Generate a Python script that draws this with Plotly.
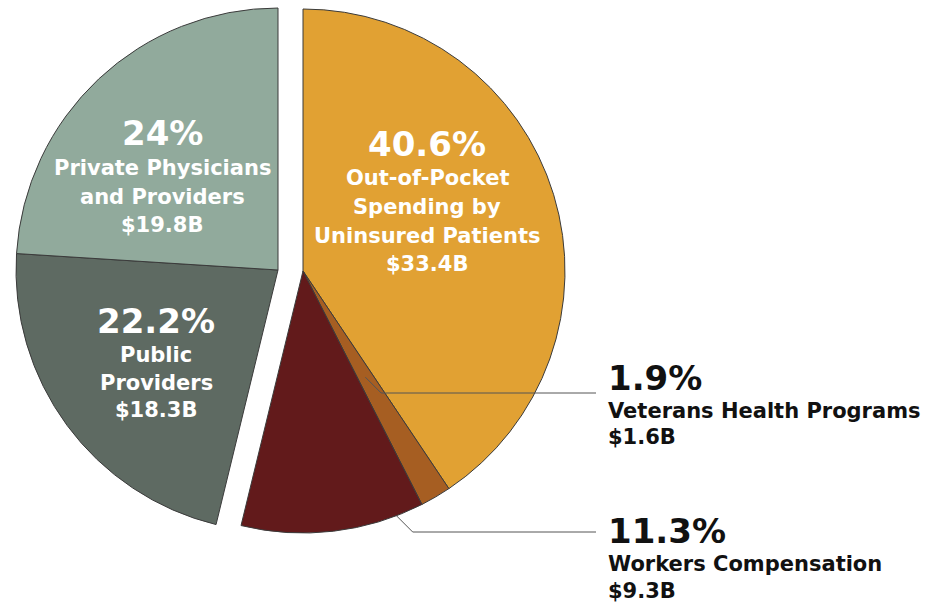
import math
import plotly.graph_objects as go

# ---- data -------------------------------------------------------------
categories = [
    "Out-of-Pocket Spending by Uninsured Patients",
    "Veterans Health Programs",
    "Workers Compensation",
    "Public Providers",
    "Private Physicians and Providers",
]
shares = [40.6, 1.9, 11.3, 22.2, 24.0]          # percent of total
spending_b = [33.4, 1.6, 9.3, 18.3, 19.8]       # billions of dollars
label_lines = [
    ["Out-of-Pocket", "Spending by", "Uninsured Patients"],
    ["Veterans Health Programs"],
    ["Workers Compensation"],
    ["Public", "Providers"],
    ["Private Physicians", "and Providers"],
]
colors = ["#E1A133", "#A65E22", "#621A1B", "#5E6A62", "#91AA9C"]
# slices that are pulled out together as one block on the left
left_block = [False, False, False, True, True]

# ---- layout constants (pixels) ---------------------------------------
W, H = 926, 605
R = 262
MAIN_C = (303, 271)
LEFT_C = (278, 270)
FONT = "Verdana, DejaVu Sans, sans-serif"
EDGE = "#3b3b3b"


def px(x):
    return x / W


def py(y):
    return 1 - y / H


def domain(c):
    cx, cy = c
    return dict(x=[px(cx - R), px(cx + R)], y=[py(cy + R), py(cy - R)])


def pie_trace(show, c):
    return go.Pie(
        values=shares,
        labels=categories,
        sort=False,
        direction="clockwise",
        rotation=0,
        textinfo="none",
        hoverinfo="skip",
        showlegend=False,
        domain=domain(c),
        marker=dict(
            colors=[col if s else "rgba(0,0,0,0)" for col, s in zip(colors, show)],
            line=dict(color=[EDGE if s else "rgba(0,0,0,0)" for s in show],
                      width=[1 if s else 0 for s in show]),
        ),
    )


fig = go.Figure()
fig.add_trace(pie_trace([not b for b in left_block], MAIN_C))
fig.add_trace(pie_trace(left_block, LEFT_C))

# ---- labels -------------------------------------------------------------
# (x, y of each line, alignment, colour) for each slice
label_pos = [
    (427, [144, 178, 207, 236, 264], "center", "white"),
    (606, [378, 411, 437], "left", "#111111"),
    (606, [531, 564, 591], "left", "#111111"),
    (156, [321, 355, 383, 410], "center", "white"),
    (162, [133, 168, 197, 225], "center", "white"),
]

annotations = []
for share, amount, lines, (x, ys, align, col) in zip(shares, spending_b, label_lines, label_pos):
    texts = [f"{share:g}%"] + lines + [f"${amount:g}B"]
    for i, (t, y) in enumerate(zip(texts, ys)):
        annotations.append(dict(
            x=px(x), y=py(y), xref="paper", yref="paper",
            text=t, showarrow=False,
            xanchor=align, yanchor="middle",
            font=dict(family=FONT, size=34 if i == 0 else 21, color=col, weight="bold"),
        ))

# ---- leader lines ---------------------------------------------------------
total = sum(shares)


def slice_point(i, frac, k, c=MAIN_C):
    a = math.radians(360 * (sum(shares[:i]) + frac * shares[i]) / total)
    return c[0] + k * R * math.sin(a), c[1] - k * R * math.cos(a)


shapes = []
leaders = [(1, 0.5, 0.47, 393), (2, 0.15, 1.0, 532)]
for i, frac, k, yh in leaders:
    x0, y0 = slice_point(i, frac, k)
    xe, ye = x0 + (yh - y0), yh
    shapes.append(dict(
        type="path", xref="paper", yref="paper",
        path=f"M {px(x0)},{py(y0)} L {px(xe)},{py(ye)} L {px(596)},{py(ye)}",
        line=dict(color="#555555", width=1),
    ))

fig.update_layout(
    width=W, height=H,
    margin=dict(l=0, r=0, t=0, b=0, pad=0),
    paper_bgcolor="white", plot_bgcolor="white",
    annotations=annotations, shapes=shapes,
)

fig.write_html("out.html")
